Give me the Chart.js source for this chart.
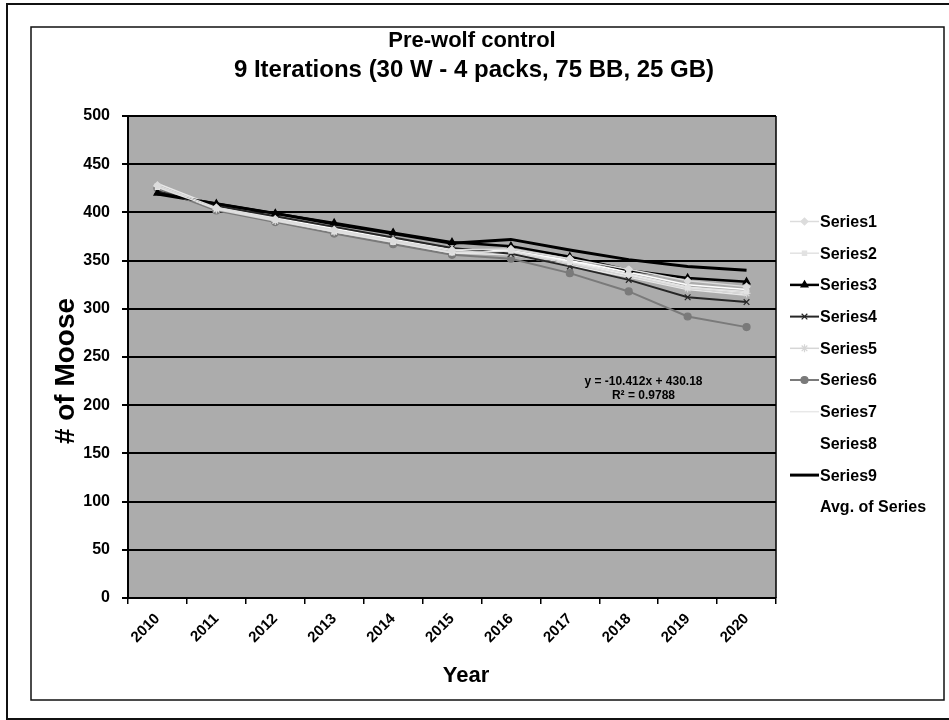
<!DOCTYPE html>
<html><head><meta charset="utf-8">
<script src="https://cdn.jsdelivr.net/npm/chart.js@4/dist/chart.umd.min.js"></script>
<style>html,body{margin:0;padding:0;background:#fff;}#wrap{width:949px;height:720px;}</style>
</head><body><div id="wrap"><canvas id="c" width="949" height="720"></canvas></div>
<script>
const years = ['2010','2011','2012','2013','2014','2015','2016','2017','2018','2019','2020'];
const series1 = [428,405,393,382,371,361,362,352,341,329,323];
const series2 = [426,404,392,380,369,358,360,348,336,322,318];
const series3 = [420,409,399,389,379,369,365,354,340,332,328];
const series4 = [422,407,396,385,374,363,357,344,330,312,307];
const series5 = [427,403,391,380,370,359,358,347,334,321,316];
const series6 = [425,402,390,378,367,356,352,337,318,292,281];
const series7 = [430,406,394,381,370,358,356,345,333,320,314];
const series8 = [424,404,393,382,371,361,360,350,338,325,320];
const series9 = [419,409,399,388,378,368,372,361,351,344,340];
const avgSeries = [425,405,394,383,372,361,360,349,335,322,316];
const yMin = 0, yMax = 500, yStep = 50;
const titleLines = ['Pre-wolf control', '9 Iterations (30 W - 4 packs, 75 BB, 25 GB)'];
const xTitle = 'Year';
const yTitle = '# of Moose';
const trendText = ['y = -10.412x + 430.18', 'R\u00B2 = 0.9788'];

const FONT = '"Liberation Sans", Arial, sans-serif';

function ds(label, data, color, width, pstyle, prad) {
  return {label, data, borderColor: color, backgroundColor: color, borderWidth: width,
    pointStyle: pstyle || false, pointRadius: pstyle ? (prad || 3.5) : 0,
    pointBorderColor: color, pointBackgroundColor: color, pointBorderWidth: 1.2,
    tension: 0, fill: false};
}
const datasets = [
  ds('Series1', series1, '#dcdcdc', 1.5, 'rectRot', 3.5),
  ds('Series2', series2, '#e2e2e2', 1.5, 'rect', 3),
  ds('Series3', series3, '#000000', 2.5, 'triangle', 4),
  ds('Series4', series4, '#262626', 2, 'crossRot', 4),
  ds('Series5', series5, '#d6d6d6', 1.5, 'star', 4),
  ds('Series6', series6, '#7a7a7a', 2, 'circle', 3.5),
  ds('Series7', series7, '#e8e8e8', 1.5, false),
  ds('Series8', series8, '#ffffff', 1.5, false),
  ds('Series9', series9, '#000000', 3, false),
  ds('Avg. of Series', avgSeries, '#ffffff', 2, false)
];

const decor = {
  id: 'decor',
  beforeDraw(chart) {
    const ctx = chart.ctx, a = chart.chartArea;
    ctx.save();
    ctx.fillStyle = '#fff';
    ctx.fillRect(0, 0, chart.width, chart.height);
    ctx.strokeStyle = '#111';
    ctx.lineWidth = 2;
    ctx.strokeRect(7, 4, 950, 715);
    ctx.lineWidth = 1.5;
    ctx.strokeRect(31, 27, 913, 673);
    ctx.fillStyle = '#acacac';
    ctx.fillRect(a.left, a.top, a.right - a.left, a.bottom - a.top);
    ctx.restore();
  },
  afterDraw(chart) {
    const ctx = chart.ctx, a = chart.chartArea;
    const xs = chart.scales.x, ys = chart.scales.y;
    ctx.save();
    ctx.strokeStyle = '#000';
    ctx.lineWidth = 1.5;
    ctx.beginPath();
    ctx.moveTo(a.right, a.top); ctx.lineTo(a.right, a.bottom);
    ctx.moveTo(a.left, a.top); ctx.lineTo(a.right, a.top);
    ctx.stroke();
    ctx.fillStyle = '#000';
    ctx.textAlign = 'center';
    ctx.textBaseline = 'middle';
    ctx.font = 'bold 22px ' + FONT;
    ctx.fillText(titleLines[0], 472, 41);
    ctx.font = 'bold 24px ' + FONT;
    ctx.fillText(titleLines[1], 474, 70);
    ctx.font = 'bold 22px ' + FONT;
    ctx.fillText(xTitle, 466, 676);
    ctx.save();
    ctx.translate(66, 371);
    ctx.rotate(-Math.PI / 2);
    ctx.font = 'bold 28px ' + FONT;
    ctx.fillText(yTitle, 0, 0);
    ctx.restore();
    ctx.font = 'bold 12px ' + FONT;
    const tx = xs.getPixelForValue(8.25);
    const ty = ys.getPixelForValue(224);
    ctx.fillText(trendText[0], tx, ty);
    ctx.fillText(trendText[1], tx, ty + 14);
    const lx0 = 790, lx1 = 819;
    chart.data.datasets.forEach((d, i) => {
      const y = 221.5 + i * 31.7;
      if (d.borderColor !== '#ffffff') {
        ctx.strokeStyle = d.borderColor;
        ctx.lineWidth = d.borderWidth;
        ctx.beginPath(); ctx.moveTo(lx0, y); ctx.lineTo(lx1, y); ctx.stroke();
        if (d.pointStyle) {
          ctx.fillStyle = d.pointBackgroundColor;
          ctx.strokeStyle = d.pointBorderColor;
          ctx.lineWidth = d.pointBorderWidth;
          Chart.helpers.drawPoint(ctx, {pointStyle: d.pointStyle, radius: d.pointRadius, rotation: 0, borderWidth: d.pointBorderWidth}, (lx0 + lx1) / 2, y);
        }
      }
      ctx.fillStyle = '#000';
      ctx.textAlign = 'left';
      ctx.font = 'bold 16px ' + FONT;
      ctx.fillText(d.label, lx1 + 1, y + 1);
    });
    ctx.restore();
  }
};

new Chart(document.getElementById('c'), {
  type: 'line',
  data: {labels: years, datasets},
  options: {
    responsive: false, animation: false, devicePixelRatio: 1,
    layout: {padding: {top: 116, right: 173, bottom: 0, left: 0}},
    plugins: {legend: {display: false}, tooltip: {enabled: false}, title: {display: false}},
    scales: {
      x: {
        type: 'category', offset: true,
        afterFit(s) { s.height = 122; },
        grid: {offset: true, drawOnChartArea: false, drawTicks: true, tickLength: 6, color: '#000', lineWidth: 1.5},
        border: {display: true, color: '#000', width: 2},
        ticks: {autoSkip: false, minRotation: 45, maxRotation: 45, padding: 6, color: '#000', font: {family: FONT, size: 15, weight: 'bold'}}
      },
      y: {
        min: yMin, max: yMax,
        afterFit(s) { s.width = 128; },
        grid: {color: '#000', lineWidth: 2, tickLength: 6, drawTicks: true},
        border: {display: true, color: '#000', width: 2},
        ticks: {stepSize: yStep, padding: 12, color: '#000', font: {family: FONT, size: 16, weight: 'bold'}}
      }
    }
  },
  plugins: [decor]
});
</script>
</body></html>
